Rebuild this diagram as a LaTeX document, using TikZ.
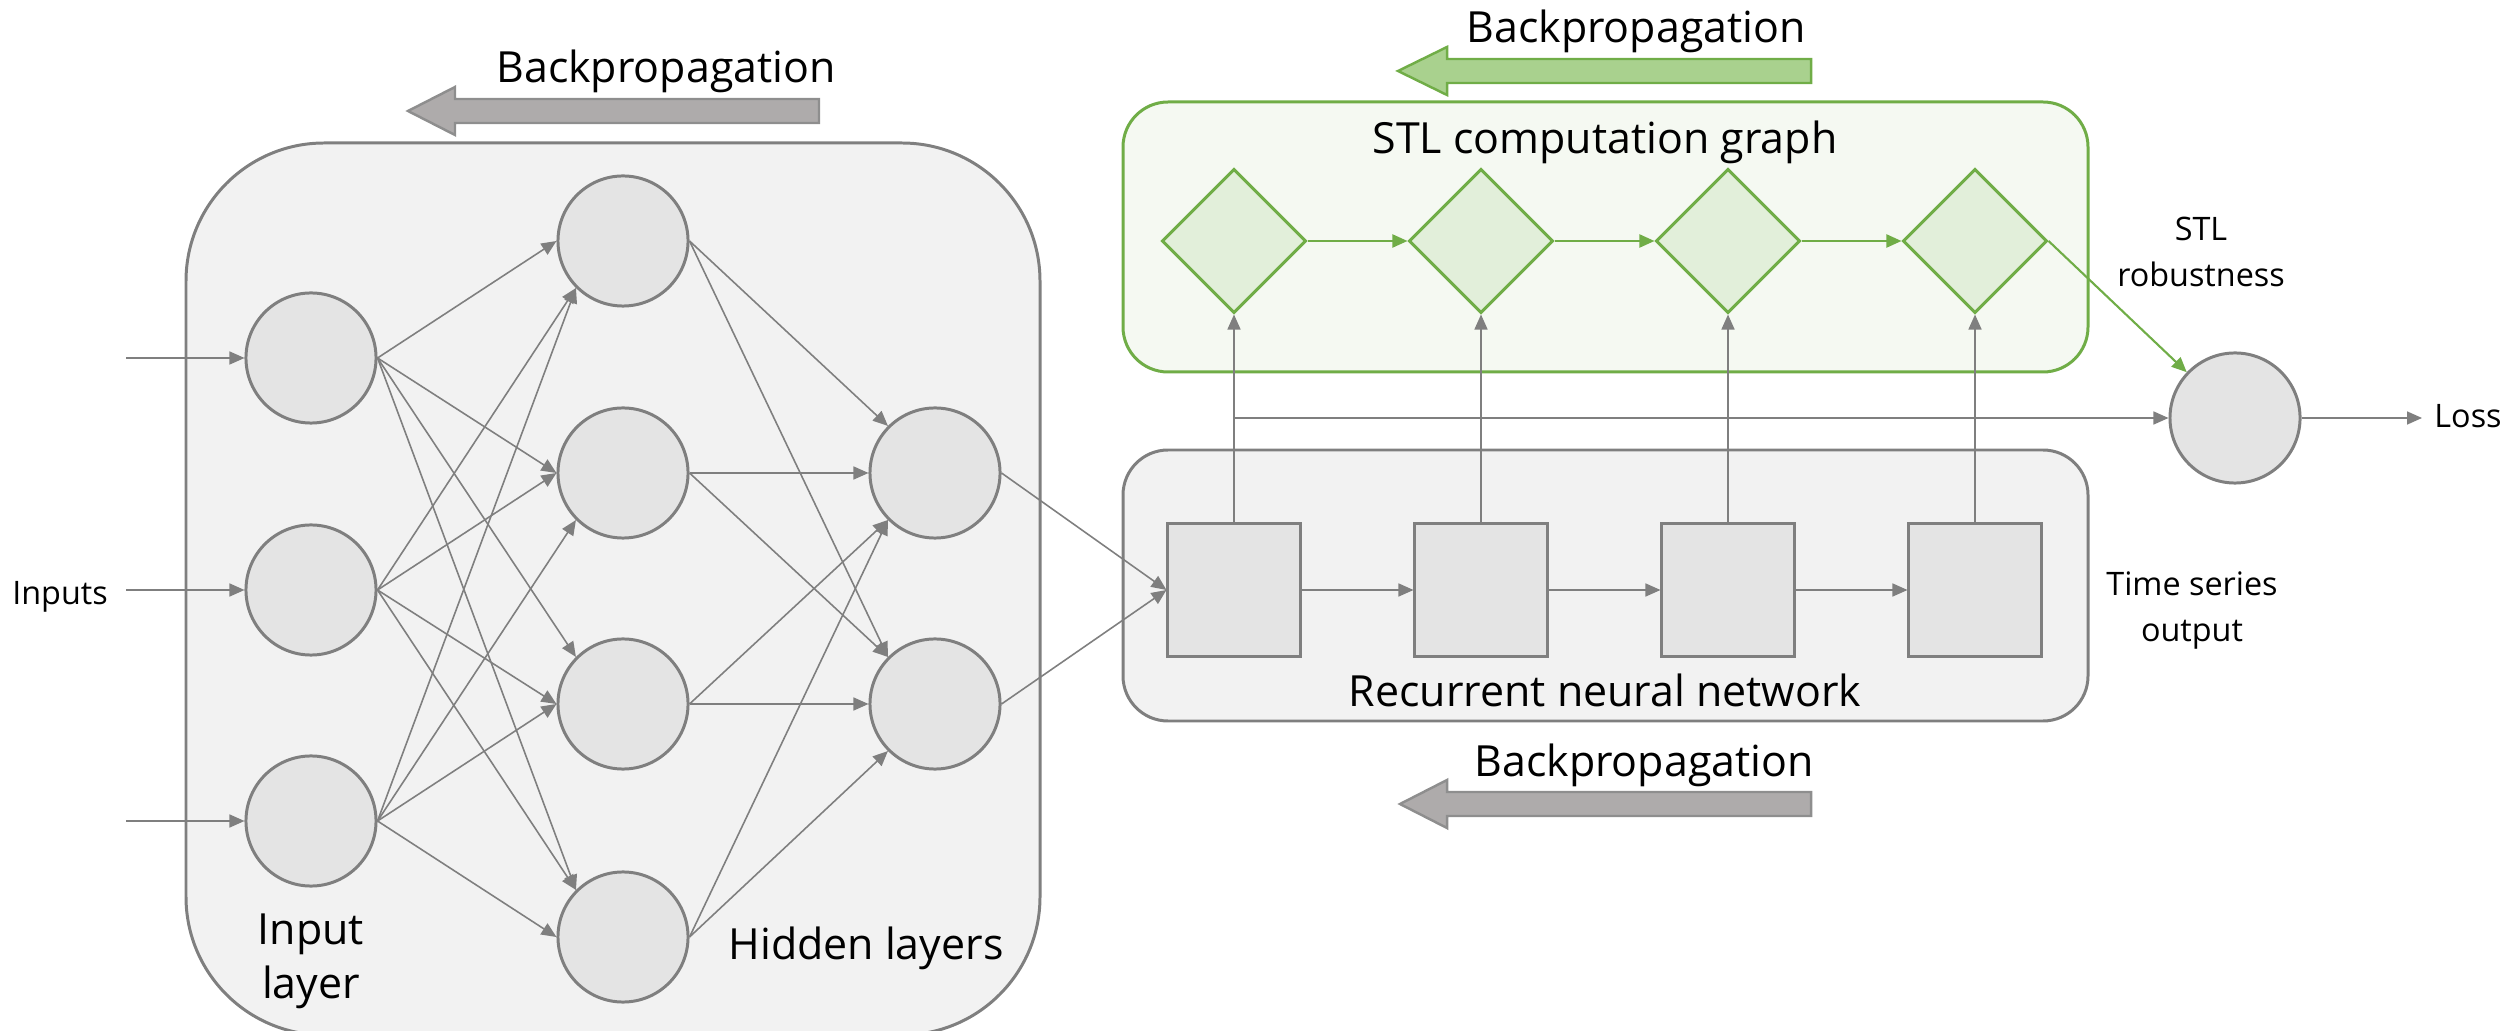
\documentclass[tikz,border=0pt]{standalone}
\usepackage{fontspec}
\setmainfont{Open Sans}
\usetikzlibrary{shapes.geometric,arrows.meta}

\definecolor{edgegray}{HTML}{7F7F7F}
\definecolor{cellfill}{HTML}{E4E4E4}
\definecolor{panelfill}{HTML}{F2F2F2}
\definecolor{stlgreen}{HTML}{70AD47}
\definecolor{stlpanel}{HTML}{F5F9F2}
\definecolor{gatefill}{HTML}{E2EFDA}
\definecolor{gradgreen}{HTML}{A9D18E}
\definecolor{gradgray}{HTML}{AEABAB}
\definecolor{gradedge}{HTML}{8E8E8E}

\begin{document}
\begin{tikzpicture}[x=0.01cm, y=-0.01cm,
  neuron/.style={circle, draw=edgegray, fill=cellfill, line width=0.85pt,
    minimum size=1.3cm, inner sep=0pt},
  cell/.style={rectangle, draw=edgegray, fill=cellfill, line width=0.85pt,
    minimum size=1.32cm, inner sep=0pt},
  gate/.style={diamond, aspect=1, draw=stlgreen, fill=gatefill, line width=0.85pt,
    minimum width=1.44cm, minimum height=1.44cm, inner sep=0pt},
  panel/.style={draw=edgegray, fill=panelfill, line width=0.85pt},
  stlbox/.style={draw=stlgreen, fill=stlpanel, line width=0.85pt},
  link/.style={draw=edgegray, line width=0.45pt,
    -{Triangle[length=0.15cm, width=0.13cm]}},
  glink/.style={draw=stlgreen, line width=0.6pt,
    -{Triangle[length=0.15cm, width=0.13cm]}},
  gradgrey/.style={fill=gradgray, draw=gradedge, line width=0.7pt},
  gradgreenarrow/.style={fill=gradgreen, draw=stlgreen, line width=0.7pt},
  biglabel/.style={inner sep=0pt, align=center,
    font=\fontsize{12.2}{15.1}\selectfont},
  smalllabel/.style={inner sep=0pt, align=center,
    font=\fontsize{9.2}{13.1}\selectfont},
]
\useasboundingbox (0,0) rectangle (2515,1031);

% containers (the network panel runs just past the lower edge)
\begin{scope}
\clip (0,0) rectangle (2515,1031);
\draw[panel, rounded corners=1.38cm] (186,143) rectangle (1040,1035);
\end{scope}
\draw[stlbox, rounded corners=0.45cm] (1123,102) rectangle (2088,372);
\draw[panel, rounded corners=0.45cm] (1123,450) rectangle (2088,721);

% gradient flow arrows
\filldraw[gradgrey] (819,99) -- (455,99) -- (455,87) -- (408,111)
  -- (455,135) -- (455,123) -- (819,123) -- cycle;
\filldraw[gradgreenarrow] (1811,59) -- (1447,59) -- (1447,47) -- (1398,71)
  -- (1447,95) -- (1447,83) -- (1811,83) -- cycle;
\filldraw[gradgrey] (1811,792) -- (1447,792) -- (1447,780) -- (1400,804)
  -- (1447,828) -- (1447,816) -- (1811,816) -- cycle;

% feed-forward network
\node[neuron] (i1) at (311,358) {};
\node[neuron] (i2) at (311,590) {};
\node[neuron] (i3) at (311,821) {};
\node[neuron] (h1) at (623,241) {};
\node[neuron] (h2) at (623,473) {};
\node[neuron] (h3) at (623,704) {};
\node[neuron] (h4) at (623,937) {};
\node[neuron] (g1) at (935,473) {};
\node[neuron] (g2) at (935,704) {};

% recurrent cells
\node[cell] (r1) at (1234,590) {};
\node[cell] (r2) at (1481,590) {};
\node[cell] (r3) at (1728,590) {};
\node[cell] (r4) at (1975,590) {};

% STL graph
\node[gate] (d1) at (1234,241) {};
\node[gate] (d2) at (1481,241) {};
\node[gate] (d3) at (1728,241) {};
\node[gate] (d4) at (1975,241) {};

\node[neuron] (loss) at (2235,418) {};

% free ends
\coordinate (in1) at (126,358);
\coordinate (in2) at (126,590);
\coordinate (in3) at (126,821);
\coordinate (branch) at (1234,418);
\coordinate (lossend) at (2422,418);

% connectors
\foreach \k in {1,2,3} \draw[link] (in\k) -- (i\k.west);
\foreach \s/\t/\a in {i1/h1/west, i1/h2/west, i1/h3/north west, i1/h4/north west,
                      i2/h1/south west, i2/h2/west, i2/h3/west, i2/h4/north west,
                      i3/h1/south west, i3/h2/south west, i3/h3/west, i3/h4/west,
                      h1/g1/north west, h2/g1/west, h3/g1/south west, h4/g1/south west,
                      h1/g2/north west, h2/g2/north west, h3/g2/west, h4/g2/south west}
  \draw[link] (\s.east) -- (\t.\a);
\draw[link] (g1.east) -- (r1.west);
\draw[link] (g2.east) -- (r1.west);
\draw[link] (r1.east) -- (r2.west);
\draw[link] (r2.east) -- (r3.west);
\draw[link] (r3.east) -- (r4.west);
\foreach \k in {1,2,3,4} \draw[link] (r\k.north) -- (d\k.south);
\draw[link] (branch) -- (loss.west);
\draw[glink] (d1.east) -- (d2.west);
\draw[glink] (d2.east) -- (d3.west);
\draw[glink] (d3.east) -- (d4.west);
\draw[glink] (d4.east) -- (loss);
\draw[link] (loss.east) -- (lossend);

% labels (base of a two-line label is its last line)
\node[biglabel, anchor=base] (bpnn) at (666,83) {Backpropagation};
\node[biglabel, anchor=base] (bpstl) at (1636,43) {Backpropagation};
\node[biglabel, anchor=base] (bprnn) at (1644,776) {Backpropagation};
\node[biglabel, anchor=base] (stltitle) at (1605,154) {STL computation graph};
\node[biglabel, anchor=base] (rnntitle) at (1605,707) {Recurrent neural network};
\node[biglabel, anchor=base] (hidlab) at (866,959) {Hidden layers};
\node[biglabel, anchor=base] (inlab) at (311,998) {Input\\layer};
\node[smalllabel, anchor=base] (inputs) at (60,605) {Inputs};
\node[smalllabel, anchor=base] (losslab) at (2468,428) {Loss};
\node[smalllabel, anchor=base] (robust) at (2201,287) {STL\\robustness};
\node[smalllabel, anchor=base] (tsout) at (2192,642) {Time series\\output};
\end{tikzpicture}
\end{document}
